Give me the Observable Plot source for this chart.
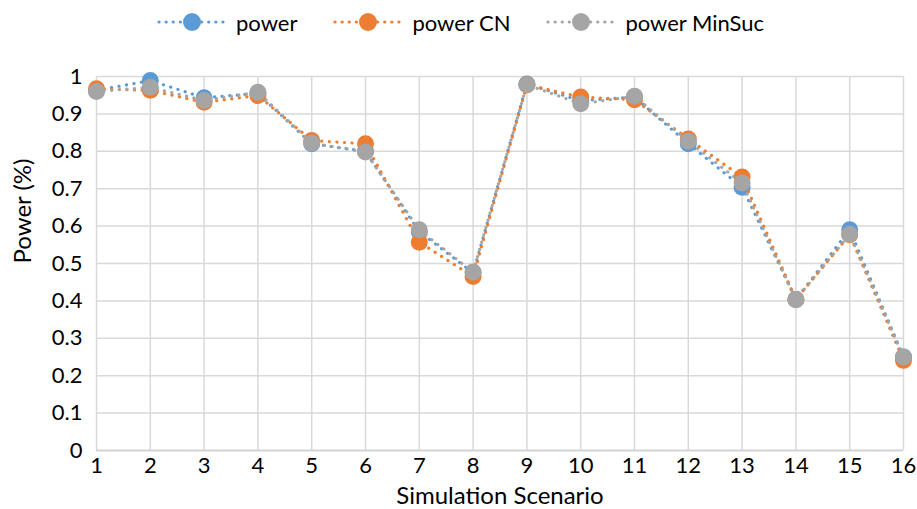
<!DOCTYPE html>
<html>
<head>
<meta charset="utf-8">
<script src="https://cdn.jsdelivr.net/npm/d3@7"></script>
<script src="https://cdn.jsdelivr.net/npm/@observablehq/plot@0.6"></script>
<style>
  body { margin: 0; background: #fff; font-family: Lato, "Open Sans", sans-serif; }
  #legend { height: 44px; display: flex; align-items: center; padding-left: 157px; font-size: 22px; color: #000; }
  .item { display: flex; align-items: center; margin-right: 36px; }
  .item svg { margin-right: 9px; }
</style>
</head>
<body>
<div id="legend"></div>
<div id="chart"></div>
<script>
const scenarios = [1,2,3,4,5,6,7,8,9,10,11,12,13,14,15,16];
const power       = [0.963,0.989,0.943,0.955,0.820,0.800,0.585,0.475,0.980,0.935,0.945,0.820,0.704,0.404,0.590,0.250];
const powerCN     = [0.967,0.963,0.931,0.949,0.829,0.820,0.557,0.465,0.978,0.945,0.938,0.833,0.731,0.404,0.577,0.241];
const powerMinSuc = [0.960,0.971,0.936,0.958,0.822,0.798,0.590,0.477,0.978,0.927,0.947,0.827,0.715,0.404,0.578,0.250];
const seriesNames = ["power", "power CN", "power MinSuc"];
const seriesColors = ["#5B9BD5", "#ED7D31", "#A5A5A5"];
const yTicks = [0,0.1,0.2,0.3,0.4,0.5,0.6,0.7,0.8,0.9,1];
const xTitle = "Simulation Scenario";
const yTitle = "Power (%)";

const allSeries = [power, powerCN, powerMinSuc];
const data = [];
allSeries.forEach((vals, si) => {
  vals.forEach((v, i) => data.push({series: seriesNames[si], x: scenarios[i], y: v}));
});

const marks = [
  Plot.gridY(yTicks, {stroke: "#d9d9d9", strokeOpacity: 1, strokeWidth: 1.5}),
  Plot.gridX(scenarios, {stroke: "#d9d9d9", strokeOpacity: 1, strokeWidth: 1.5}),
  Plot.ruleY([0], {stroke: "#d0d0d0", strokeWidth: 1.5})
];
seriesNames.forEach((name, si) => {
  const d = data.filter(r => r.series === name);
  marks.push(Plot.line(d, {x: "x", y: "y", stroke: seriesColors[si], strokeWidth: 3.2,
    strokeDasharray: "0.1 7.5", strokeLinecap: "round"}));
  marks.push(Plot.dot(d, {x: "x", y: "y", fill: seriesColors[si], r: 8.5}));
});
marks.push(Plot.axisY(yTicks, {tickFormat: d => String(d), tickSize: 0, tickPadding: 14, fontSize: 22, label: null}));
marks.push(Plot.axisX(scenarios, {tickFormat: d => String(d), tickSize: 0, tickPadding: 7, fontSize: 22, label: null}));
marks.push(Plot.text([yTitle], {text: d => d, frameAnchor: "left", dx: -73, rotate: -90, fontSize: 24, fill: "#000"}));
marks.push(Plot.text([xTitle], {text: d => d, frameAnchor: "bottom", dy: 53, fontSize: 24, fill: "#000"}));

const chart = Plot.plot({
  width: 917,
  height: 465,
  marginTop: 32,
  marginBottom: 59,
  marginLeft: 96,
  marginRight: 14,
  style: {fontFamily: "Lato, 'Open Sans', sans-serif", fontSize: "22px", color: "#000", background: "#fff"},
  x: {domain: [1, 16], type: "linear"},
  y: {domain: [0, 1]},
  marks
});
document.getElementById("chart").appendChild(chart);

// legend
const legend = document.getElementById("legend");
seriesNames.forEach((name, si) => {
  const item = document.createElement("div");
  item.className = "item";
  item.innerHTML = `<svg width="70" height="22"><line x1="2" x2="68" y1="11" y2="11" stroke="${seriesColors[si]}" stroke-width="3.2" stroke-dasharray="0.1 7" stroke-linecap="round"/><circle cx="35" cy="11" r="9" fill="${seriesColors[si]}"/></svg><span>${name}</span>`;
  legend.appendChild(item);
});
</script>
</body>
</html>
